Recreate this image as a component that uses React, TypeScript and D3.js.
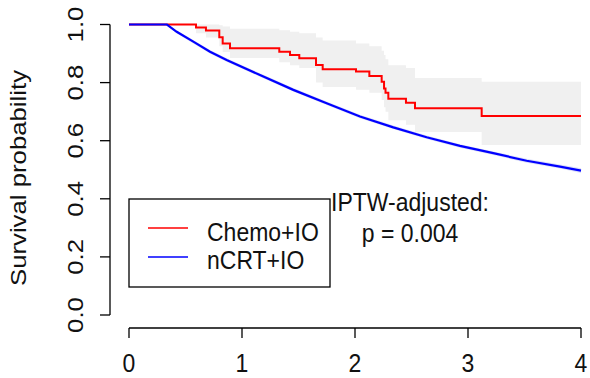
import React from "react";
import * as d3 from "d3";

// Chemo+IO (red) Kaplan-Meier step curve
const redTime = [0, 0.593, 0.681, 0.799, 0.829, 0.894, 1.33, 1.425, 1.507, 1.655, 1.714, 2.009, 2.127, 2.236, 2.257, 2.27, 2.295, 2.451, 2.531, 3.121, 4.0];
const redSurv = [1.0, 0.99, 0.979, 0.956, 0.935, 0.918, 0.906, 0.895, 0.884, 0.861, 0.846, 0.838, 0.823, 0.803, 0.78, 0.765, 0.744, 0.731, 0.712, 0.685, 0.685];
// Chemo+IO confidence band
const redUpper = [1.0, 1.0, 1.0, 0.997, 0.993, 0.985, 0.98, 0.975, 0.97, 0.955, 0.945, 0.935, 0.925, 0.91, 0.895, 0.88, 0.86, 0.85, 0.816, 0.803, 0.803];
const redLower = [1.0, 0.97, 0.955, 0.925, 0.905, 0.885, 0.87, 0.86, 0.85, 0.8, 0.785, 0.775, 0.765, 0.74, 0.715, 0.7, 0.67, 0.655, 0.63, 0.585, 0.585];

// nCRT+IO (blue) curve
const blueTime = [0, 0.336, 0.422, 0.569, 0.717, 0.864, 1.159, 1.454, 1.749, 2.044, 2.339, 2.634, 2.929, 3.224, 3.519, 3.814, 4.0];
const blueSurv = [1.0, 1.0, 0.975, 0.941, 0.906, 0.878, 0.826, 0.775, 0.729, 0.683, 0.646, 0.612, 0.582, 0.557, 0.531, 0.511, 0.497];
const blueUpper = [1.0, 1.0, 0.98, 0.947, 0.912, 0.884, 0.832, 0.781, 0.735, 0.689, 0.652, 0.618, 0.588, 0.563, 0.538, 0.518, 0.505];
const blueLower = [1.0, 1.0, 0.97, 0.935, 0.9, 0.872, 0.82, 0.769, 0.723, 0.677, 0.64, 0.606, 0.576, 0.551, 0.524, 0.504, 0.489];

const xTicks = [0, 1, 2, 3, 4];
const yTicks = [0, 0.2, 0.4, 0.6, 0.8, 1.0];
const legendLabels = ["Chemo+IO", "nCRT+IO"];
const legendColors = ["#ff0000", "#0000ff"];
const yLabel = "Survival probability";
const annot = ["IPTW-adjusted:", "p = 0.004"];

const FONT = "'Liberation Sans', Arial, sans-serif";
const FS = 23;
const SY = 1.12;

type P = { t: number; s: number; u?: number; l?: number };

export default function App() {
  const x = d3.scaleLinear().domain([0, 4]).range([129, 581]);
  const y = d3.scaleLinear().domain([0, 1]).range([315, 24.5]);

  const red: P[] = redTime.map((t, i) => ({ t, s: redSurv[i], u: redUpper[i], l: redLower[i] }));
  const blue: P[] = blueTime.map((t, i) => ({ t, s: blueSurv[i], u: blueUpper[i], l: blueLower[i] }));

  const stepLine = d3.line<P>().x(d => x(d.t)).y(d => y(d.s)).curve(d3.curveStepAfter);
  const stepArea = d3.area<P>().x(d => x(d.t)).y0(d => y(d.l!)).y1(d => y(d.u!)).curve(d3.curveStepAfter);
  const smoothLine = d3.line<P>().x(d => x(d.t)).y(d => y(d.s));
  const smoothArea = d3.area<P>().x(d => x(d.t)).y0(d => y(d.l!)).y1(d => y(d.u!));

  const txt = (key: string, tx: number, ty: number, s: string, anchor: string, rot = false) => (
    <text
      key={key}
      transform={`translate(${tx},${ty}) scale(1,${SY})${rot ? " rotate(-90)" : ""}`}
      textAnchor={anchor}
      fontFamily={FONT}
      fontSize={FS}
      fill="#111"
    >
      {s}
    </text>
  );

  return (
    <svg width={590} height={378} style={{ position: "absolute", left: 0, top: 0, background: "#fff" }}>
      <rect x={0} y={0} width={590} height={378} fill="#fff" />
      {/* confidence bands */}
      <path d={stepArea(red.slice(1)) || ""} fill="#f0f0f0" stroke="none" />
      <path d={smoothArea(blue) || ""} fill="#dcdff8" stroke="none" />
      {/* curves */}
      <path d={stepLine(red) || ""} fill="none" stroke="#ff0000" strokeWidth={2} />
      <path d={smoothLine(blue) || ""} fill="none" stroke="#0000ff" strokeWidth={2.2} />

      {/* y axis */}
      <line x1={110} x2={110} y1={y(0)} y2={y(1)} stroke="#000" strokeWidth={1.3} />
      {yTicks.map(v => (
        <line key={"yt" + v} x1={100} x2={110} y1={y(v)} y2={y(v)} stroke="#000" strokeWidth={1.3} />
      ))}
      {yTicks.map(v => txt("yl" + v, 83, y(v), v.toFixed(1), "middle", true))}
      {txt("ylab", 26, 178, yLabel, "middle", true)}

      {/* x axis */}
      <line x1={x(0)} x2={x(4)} y1={328} y2={328} stroke="#000" strokeWidth={1.3} />
      {xTicks.map(v => (
        <line key={"xt" + v} x1={x(v)} x2={x(v)} y1={328} y2={338} stroke="#000" strokeWidth={1.3} />
      ))}
      {xTicks.map(v => txt("xl" + v, x(v), 372, String(v), "middle"))}

      {/* legend */}
      <rect x={129} y={199} width={201} height={88} fill="#fff" stroke="#000" strokeWidth={1.3} />
      {legendLabels.map((lab, i) => (
        <g key={lab}>
          <line x1={148} x2={188} y1={228 + i * 29} y2={228 + i * 29} stroke={legendColors[i]} strokeWidth={1.5} />
          {txt("lg" + i, 207, 241 + i * 28, lab, "start")}
        </g>
      ))}

      {/* annotation */}
      {txt("a0", 410, 211, annot[0], "middle")}
      {txt("a1", 410, 242, annot[1], "middle")}
    </svg>
  );
}
